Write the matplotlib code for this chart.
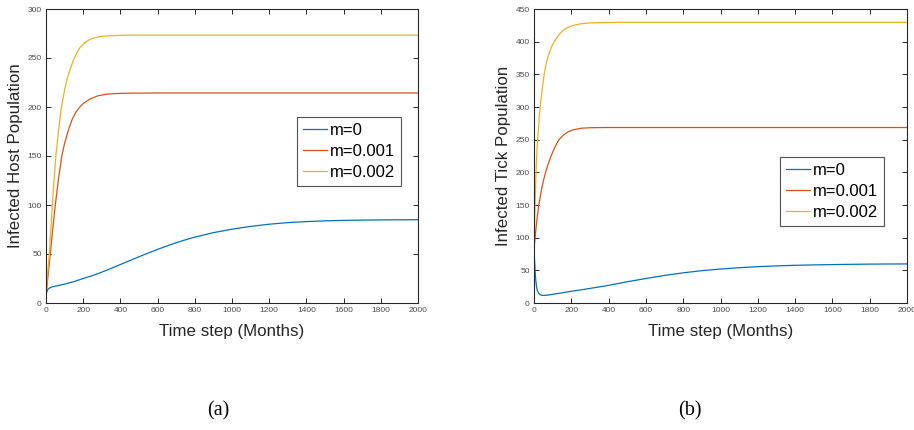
import matplotlib
matplotlib.use("Agg")
import matplotlib.pyplot as plt

plt.rcParams['font.family'] = ['Liberation Sans', 'DejaVu Sans']

W, H = 914, 430

# Infected host population, panel (a)
host_t0 = [0, 3, 7, 12, 20, 30, 45, 70, 100, 150, 200, 250, 300, 350, 400, 450, 500,
           550, 600, 650, 700, 750, 800, 900, 1000, 1100, 1200, 1300, 1400, 1500,
           1600, 1700, 1800, 1900, 2000]
host_m0 = [8, 10.5, 12.8, 14.3, 15.4, 16.2, 17, 18, 19.3, 21.8, 25, 28, 31.5, 35.3,
           39.3, 43.2, 47.2, 51, 54.7, 58.2, 61.5, 64.5, 67.2, 71.8, 75.3, 78.2, 80.4,
           82, 83.1, 83.8, 84.3, 84.6, 84.8, 84.9, 85]
host_t1 = [0, 5, 10, 16, 23, 36, 50, 66, 85, 100, 120, 140, 160, 182, 200, 235, 280,
           324, 380, 450, 600, 2000]
host_m1 = [8, 17, 26, 37, 50, 75, 100, 125, 150, 163, 176, 187, 194.5, 200, 203.5,
           208, 211.5, 213, 213.8, 214.1, 214.3, 214.3]
host_t2 = [0, 8, 18, 26, 34, 43, 53, 67, 83, 103, 115, 129, 150, 165, 182, 205, 227,
           250, 280, 320, 380, 450, 2000]
host_m2 = [8, 28, 50, 75, 100, 125, 150, 175, 200, 220, 229.5, 238, 249, 255, 260.5,
           265, 268, 270, 271.5, 272.5, 273, 273.3, 273.3]

# Infected tick population, panel (b)
tick_t0 = [0, 2, 4, 6, 8, 11, 14, 18, 24, 32, 42, 55, 70, 100, 150, 200, 250, 300,
           400, 500, 600, 700, 800, 900, 1000, 1100, 1200, 1300, 1400, 1500, 1600,
           1700, 1800, 1900, 2000]
tick_m0 = [80, 70, 60, 48, 40, 31, 24, 19, 15.5, 13, 11.8, 11.5, 12, 13.3, 15.5, 18,
           20, 22.3, 27, 32.5, 37.5, 42.2, 46.2, 49.5, 52, 54, 55.6, 56.8, 57.7, 58.3,
           58.8, 59.2, 59.5, 59.7, 59.8]
tick_t1 = [0, 3, 6, 12, 18, 26, 35, 45, 53, 62, 80, 100, 120, 135, 156, 180, 209,
           254, 300, 380, 2000]
tick_m1 = [80, 92, 100, 118, 133, 150, 165, 180, 190, 200, 216, 231, 243, 250.5,
           256.5, 261.5, 265, 267.5, 268.3, 268.6, 268.6]
tick_t2 = [0, 2, 5.5, 11, 16, 20, 27, 34, 45, 56, 66, 77, 95, 115, 135, 151, 175,
           205, 250, 290, 350, 450, 2000]
tick_m2 = [80, 110, 150, 200, 235, 252, 280, 303, 330, 353, 367, 379, 393, 403, 411,
           416, 421, 424.5, 427.3, 428.5, 429.2, 429.5, 429.5]

labels = ['m=0', 'm=0.001', 'm=0.002']
colors = ['#0072BD', '#D95319', '#EDB120']

panels = [
    dict(rect=(46, 9, 418, 303), ymax=300, yticks=range(0, 301, 50),
         ylabel='Infected Host Population', ylab_x=16, tag='(a)', tag_x=218,
         series=[(host_t0, host_m0), (host_t1, host_m1), (host_t2, host_m2)],
         legend=(297, 117)),
    dict(rect=(534, 9, 907, 303), ymax=450, yticks=range(0, 451, 50),
         ylabel='Infected Tick Population', ylab_x=503.5, tag='(b)', tag_x=690,
         series=[(tick_t0, tick_m0), (tick_t1, tick_m1), (tick_t2, tick_m2)],
         legend=(780, 157)),
]

fig = plt.figure(figsize=(W / 100, H / 100), dpi=100)

for p in panels:
    x0, y0, x1, y1 = p['rect']
    ax = fig.add_axes([x0 / W, 1 - y1 / H, (x1 - x0) / W, (y1 - y0) / H])
    for (t, v), lab, c in zip(p['series'], labels, colors):
        ax.plot(t, v, color=c, lw=0.9, label=lab)
    ax.set_xlim(0, 2000)
    ax.set_ylim(0, p['ymax'])
    ax.set_xticks(range(0, 2001, 200))
    ax.set_yticks(list(p['yticks']))
    ax.tick_params(direction='in', top=True, right=True, length=3.5, width=0.7,
                   labelsize=6, colors='#262626', labelcolor='#4a4a4a', pad=3)
    for s in ax.spines.values():
        s.set_linewidth(0.8)
        s.set_color('#262626')
    ax.set_xlabel('Time step (Months)', fontsize=12.2, color='#262626')
    ax.xaxis.set_label_coords(0.5, -0.073)
    fig.text(p['ylab_x'] / W, 1 - 156 / H, p['ylabel'], rotation=90,
             ha='center', va='center', fontsize=12.2, color='#262626')
    lx, ly = p['legend']
    leg = ax.legend(loc='upper left', fontsize=12, frameon=True, fancybox=False,
                    handlelength=1.45, handletextpad=0.2, borderpad=0.35,
                    labelspacing=0.36, borderaxespad=0,
                    bbox_to_anchor=((lx - x0) / (x1 - x0), (y1 - ly) / (y1 - y0)))
    leg.get_frame().set_edgecolor('#262626')
    leg.get_frame().set_linewidth(0.8)
    fig.text(p['tag_x'] / W, 1 - 411 / H, p['tag'], ha='center', va='center',
             fontsize=14.5, family='Liberation Serif')

fig.savefig('out.png', dpi=100)
